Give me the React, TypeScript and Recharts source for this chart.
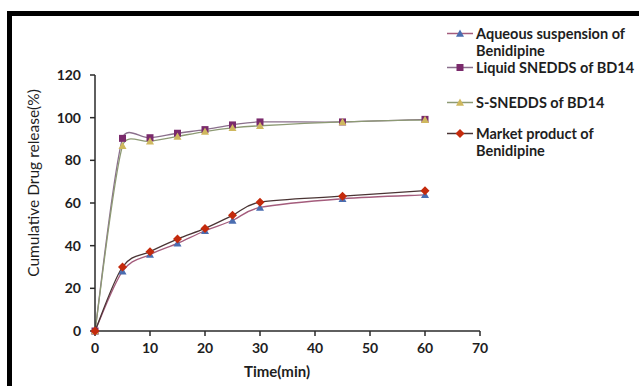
import React from "react";
import { LineChart, Line, XAxis, YAxis } from "recharts";

// Sampling times (min)
const times = [0, 5, 10, 15, 20, 25, 30, 45, 60];

// Cumulative drug release (%) per formulation
const aqueous = [0, 28, 35.8, 41.1, 47, 51.8, 57.9, 62, 63.8];
const liquidSnedds = [0, 90.3, 90.6, 92.7, 94.4, 96.6, 98, 98, 99.2];
const solidSnedds = [0, 86.8, 88.9, 91.2, 93.5, 95.2, 96.2, 98, 99];
const market = [0, 30, 37.2, 43.1, 48.1, 54.2, 60.4, 63.2, 65.8];

const xTicks = [0, 10, 20, 30, 40, 50, 60, 70];
const yTicks = [0, 20, 40, 60, 80, 100, 120];

const seriesNames = [
  ["Aqueous suspension of", "Benidipine"],
  ["Liquid SNEDDS of BD14"],
  ["S-SNEDDS of BD14"],
  ["Market product of", "Benidipine"],
];

const data = times.map((t, i) => ({
  time: t,
  aqueous: aqueous[i],
  liquid: liquidSnedds[i],
  solid: solidSnedds[i],
  market: market[i],
}));

type Shape = "triangle" | "square" | "diamond";

const series: {
  key: string;
  lines: string[];
  stroke: string;
  fill: string;
  shape: Shape;
}[] = [
  { key: "aqueous", lines: seriesNames[0], stroke: "#a45c7c", fill: "#4a6db0", shape: "triangle" },
  { key: "liquid", lines: seriesNames[1], stroke: "#8a6f8c", fill: "#7a2a6c", shape: "square" },
  { key: "solid", lines: seriesNames[2], stroke: "#8d9a74", fill: "#cfb85e", shape: "triangle" },
  { key: "market", lines: seriesNames[3], stroke: "#4a3434", fill: "#c42a0c", shape: "diamond" },
];

// Smoothed Bezier curve with tangent length capped by segment length
function smoothCurve(context: any) {
  let pts: number[][] = [];
  return {
    areaStart() {},
    areaEnd() {},
    lineStart() {
      pts = [];
    },
    point(x: number, y: number) {
      pts.push([+x, +y]);
    },
    lineEnd() {
      if (!pts.length) return;
      context.moveTo(pts[0][0], pts[0][1]);
      const cap = (vx: number, vy: number, max: number) => {
        const len = Math.hypot(vx, vy);
        if (len > max && len > 0) return [(vx / len) * max, (vy / len) * max];
        return [vx, vy];
      };
      for (let i = 0; i < pts.length - 1; i++) {
        const p0 = pts[i - 1] || pts[i];
        const p1 = pts[i];
        const p2 = pts[i + 1];
        const p3 = pts[i + 2] || p2;
        const seg = Math.hypot(p2[0] - p1[0], p2[1] - p1[1]);
        const t1 = cap((p2[0] - p0[0]) / 6, (p2[1] - p0[1]) / 6, seg * 0.5);
        const t2 = cap((p3[0] - p1[0]) / 6, (p3[1] - p1[1]) / 6, seg * 0.5);
        context.bezierCurveTo(
          p1[0] + t1[0],
          p1[1] + t1[1],
          p2[0] - t2[0],
          p2[1] - t2[1],
          p2[0],
          p2[1]
        );
      }
    },
  };
}

function Marker({ cx, cy, shape, fill }: { cx: number; cy: number; shape: Shape; fill: string }) {
  if (shape === "triangle") {
    const s = 4;
    return (
      <polygon
        points={`${cx},${cy - s} ${cx + s},${cy + s * 0.8} ${cx - s},${cy + s * 0.8}`}
        fill={fill}
      />
    );
  }
  if (shape === "square") {
    return <rect x={cx - 3.5} y={cy - 3.5} width={7} height={7} fill={fill} />;
  }
  const d = 4.5;
  return (
    <polygon
      points={`${cx},${cy - d} ${cx + d},${cy} ${cx},${cy + d} ${cx - d},${cy}`}
      fill={fill}
    />
  );
}

const legendTops = [25, 59, 94, 125];

function LegendBlock() {
  return (
    <div style={{ position: "absolute", left: 447, top: 0, width: 192, height: 180 }}>
      {series.map((s, i) => (
        <div
          key={s.key}
          style={{ position: "absolute", top: legendTops[i], left: 0, display: "flex" }}
        >
          <svg width={27} height={17} style={{ flex: "none" }}>
            <line x1={0} y1={8.5} x2={26} y2={8.5} stroke={s.stroke} strokeWidth={1.5} />
            <Marker cx={13} cy={8.5} shape={s.shape} fill={s.fill} />
          </svg>
          <div
            style={{
              marginLeft: 2,
              fontFamily: "Lato, 'Open Sans', sans-serif",
              fontWeight: 700,
              fontSize: 14.5,
              lineHeight: "17px",
              color: "#1e1e1e",
              whiteSpace: "nowrap",
            }}
          >
            {s.lines.map((l) => (
              <div key={l}>{l}</div>
            ))}
          </div>
        </div>
      ))}
    </div>
  );
}

const tickStyle = {
  fontFamily: "Lato, 'Open Sans', sans-serif",
  fontWeight: 700,
  fontSize: 14,
  fill: "#1e1e1e",
};

export default function App() {
  return (
    <div
      style={{
        position: "fixed",
        left: 0,
        top: 0,
        width: 639,
        height: 386,
        background: "#fff",
        overflow: "hidden",
      }}
    >
      <div
        style={{
          position: "absolute",
          left: 7,
          top: 11,
          width: 700,
          height: 420,
          borderLeft: "5px solid #000",
          borderTop: "5px solid #000",
        }}
      />
      <div style={{ position: "absolute", left: 0, top: 0 }}>
        <LineChart
          width={639}
          height={386}
          data={data}
          margin={{ top: 75, right: 159, bottom: 10, left: 55 }}
        >
          <XAxis
            type="number"
            dataKey="time"
            domain={[0, 70]}
            ticks={xTicks}
            interval={0}
            stroke="#2a2a2a"
            strokeWidth={1.5}
            tickSize={5}
            tickMargin={7}
            tick={tickStyle}
            height={45}
            label={{
              content: () => (
                <text
                  x={277}
                  y={377}
                  textAnchor="middle"
                  style={{
                    fontFamily: "Lato, 'Open Sans', sans-serif",
                    fontWeight: 700,
                    fontSize: 15,
                    fill: "#1e1e1e",
                  }}
                >
                  Time(min)
                </text>
              ),
            }}
          />
          <YAxis
            type="number"
            domain={[0, 120]}
            ticks={yTicks}
            interval={0}
            stroke="#2a2a2a"
            strokeWidth={1.5}
            tickSize={5}
            tickMargin={9}
            tick={tickStyle}
            width={40}
            label={{
              content: () => (
                <text
                  x={0}
                  y={0}
                  transform="translate(39 183) rotate(-90)"
                  textAnchor="middle"
                  style={{
                    fontFamily: "Lato, 'Open Sans', sans-serif",
                    fontSize: 15.5,
                    fill: "#1e1e1e",
                  }}
                >
                  Cumulative Drug release(%)
                </text>
              ),
            }}
          />
          {series.map((s) => (
            <Line
              key={s.key}
              dataKey={s.key}
              name={s.lines.join(" ")}
              type={smoothCurve as any}
              stroke={s.stroke}
              strokeWidth={1.3}
              isAnimationActive={false}
              dot={(p: any) => (
                <Marker key={`${s.key}-${p.index}`} cx={p.cx} cy={p.cy} shape={s.shape} fill={s.fill} />
              )}
              activeDot={false}
            />
          ))}
        </LineChart>
      </div>
      <LegendBlock />
    </div>
  );
}
